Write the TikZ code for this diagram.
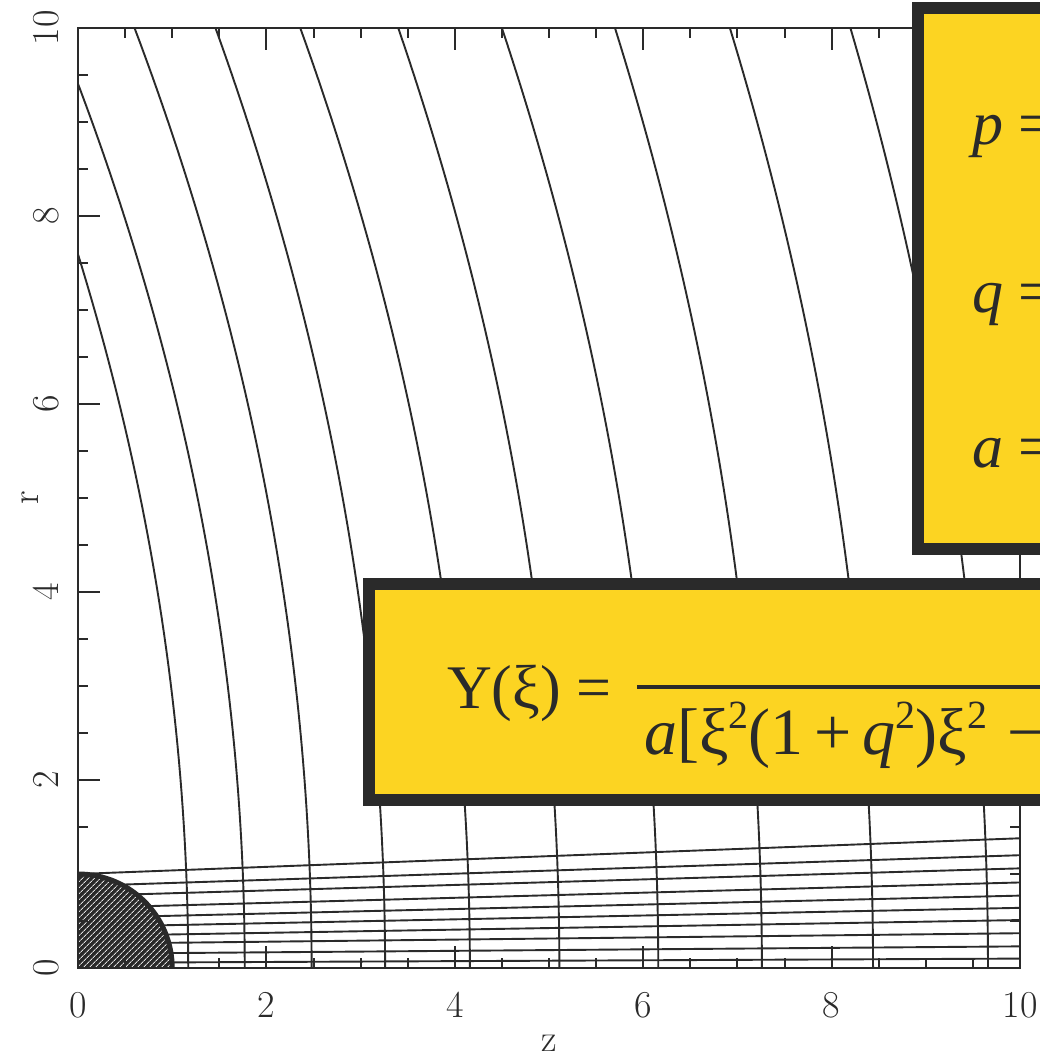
\documentclass[tikz,border=0pt]{standalone}
\usepackage{fontspec}
\newfontfamily\tms{Liberation Serif}
\usetikzlibrary{patterns.meta}
\definecolor{boxyellow}{HTML}{FCD422}
\definecolor{ink}{HTML}{2A2A2A}
\newcommand{\supt}{\raisebox{0.40em}{\fontsize{40}{42}\selectfont 2}}
\tikzset{
  curve/.style={ink, line width=1.9pt},
  frameline/.style={ink, line width=2.4pt},
  tickline/.style={ink, line width=2pt},
  ticklab/.style={font=\fontsize{38}{42}\selectfont, text=ink, inner sep=0pt},
  yellowbox/.style={draw=ink, fill=boxyellow, line width=12pt},
  boxtext/.style={font=\tms\fontsize{62}{70}\selectfont, text=ink, inner sep=0pt, anchor=base west}
}
\begin{document}
\begin{tikzpicture}[x=1pt,y=1pt]
\useasboundingbox (0,0) rectangle (1040,1061);
\clip (0,0) rectangle (1040,1061);
\fill[white] (0,0) rectangle (1040,1061);
\begin{scope}[shift={(78,93)}, x=94.2pt, y=94pt]
  \begin{scope}
    \clip (0,0) rectangle (10,10);
    \foreach \ra/\rb [count=\i] in {1.0/1.38, 0.872/1.20, 0.766/1.06, 0.638/0.91, 0.532/0.77, 0.436/0.64, 0.34/0.51, 0.257/0.37, 0.151/0.23, 0.055/0.10}
      \draw[curve] (0,\ra) coordinate (hl\i a) -- (10,\rb) coordinate (hl\i b);
    \foreach \zz/\kk in {1.17/0.0203, 1.77/0.0200, 2.48/0.0188, 3.26/0.0180, 4.16/0.0180, 5.11/0.0171, 6.16/0.0166, 7.26/0.0156, 8.44/0.0152, 9.66/0.0146}
      \draw[curve] plot[domain=0:10, samples=60] ({\zz-\kk*\x*\x}, \x);
  \end{scope}
  % body
  \fill[ink] (0,0) -- (1,0) arc[start angle=0, end angle=90, radius=1] -- cycle;
  \fill[pattern={Lines[angle=45, distance=4pt, line width=1pt]}, pattern color=white!85!ink]
    (0,0) -- (1,0) arc[start angle=0, end angle=90, radius=1] -- cycle;
  \draw[ink, line width=5pt] (1,0) arc[start angle=0, end angle=90, radius=1];
  % frame
  \draw[frameline] (0,0) rectangle (10,10);
  % ticks
  \foreach \t in {0.5,1,...,9.5} {
    \draw[tickline] (\t,0) -- ++(0,10pt);
    \draw[tickline] (\t,10) -- ++(0,-10pt);
    \draw[tickline] (0,\t) -- ++(10pt,0);
    \draw[tickline] (10,\t) -- ++(-10pt,0);
  }
  \foreach \t in {2,4,6,8} {
    \draw[tickline] (\t,0) -- ++(0,22pt);
    \draw[tickline] (\t,10) -- ++(0,-22pt);
    \draw[tickline] (0,\t) -- ++(22pt,0);
    \draw[tickline] (10,\t) -- ++(-22pt,0);
  }
  % tick labels
  \foreach \t in {0,2,4,6,8,10} {
    \node[ticklab] (bx\t) at ([yshift=-37pt]\t,0) {\t};
    \node[ticklab, rotate=90] (ly\t) at ([xshift=-32pt]0,\t) {\t};
  }
  \node[ticklab] (zlab) at ([yshift=-75pt]5,0) {z};
  \node[ticklab, rotate=90] (rlab) at ([xshift=-48pt]0,5) {r};
\end{scope}
% boxes
\draw[yellowbox] (369,477) rectangle (1070,261);
\draw[yellowbox] (918,1053) rectangle (1070,512);
% right box text
\node[boxtext] (ptext) at (972,916) {\textit{p} =};
\node[boxtext] (qtext) at (972,748) {\textit{q} =};
\node[boxtext] (atext) at (972,593) {\textit{a} =};
% bottom box text
\node[boxtext] (ytext) at (447,352) {Y(ξ) =};
\draw[ink, line width=4pt] (637,374) -- (1045,374);
\node[boxtext, font=\tms\fontsize{66}{72}\selectfont] (den) at (644,306)
  {\textit{a}[ξ\supt(1\,+\,\textit{q}\supt)ξ\supt\hspace{0.3em}−};
\end{tikzpicture}
\end{document}
